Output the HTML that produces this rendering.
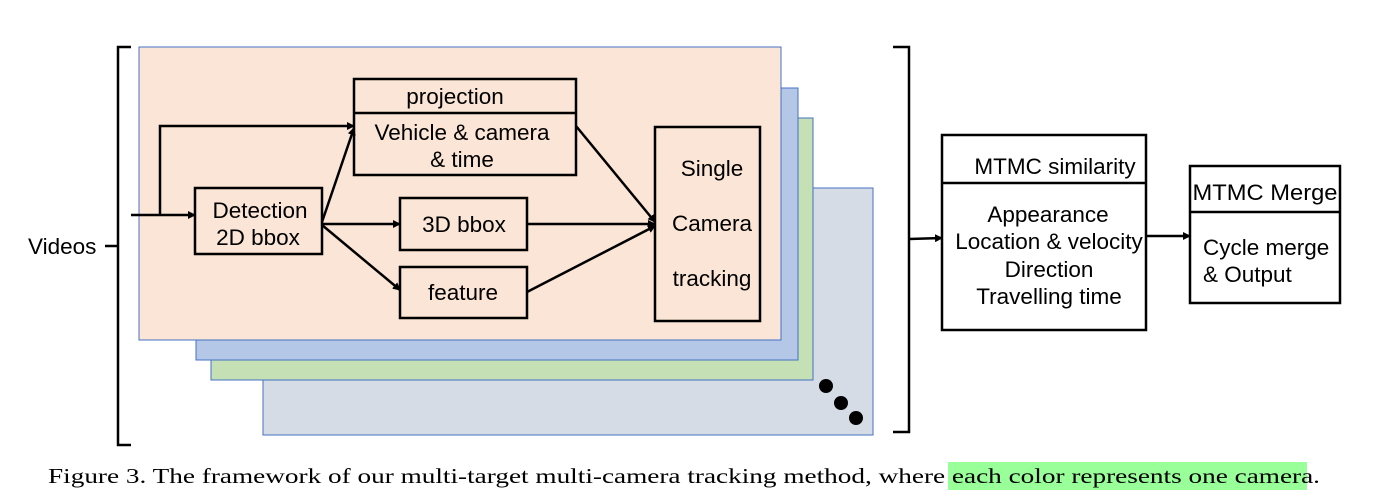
<!DOCTYPE html>
<html><head><meta charset="utf-8"><style>
html,body{margin:0;padding:0;background:#fff;}
svg{display:block;}
text{font-family:"Liberation Sans",Arial,sans-serif;font-size:22.5px;fill:#000;}
text.cap{font-family:"Liberation Serif","Times New Roman",serif;font-size:21px;}
</style></head><body>
<svg width="1373" height="502" viewBox="0 0 1373 502" xmlns="http://www.w3.org/2000/svg">
<defs><marker id="a" markerWidth="8" markerHeight="8" refX="7" refY="4" orient="auto" markerUnits="userSpaceOnUse"><path d="M0,0 L8,4 L0,8 z" fill="#000"/></marker></defs>
<rect x="263" y="188" width="610" height="247" fill="#d6dce5" stroke="#4472c4" stroke-width="1"/>
<rect x="211" y="118" width="602" height="262" fill="#c5e0b4" stroke="#4472c4" stroke-width="1"/>
<rect x="196" y="88" width="602" height="272" fill="#b4c7e7" stroke="#4472c4" stroke-width="1"/>
<rect x="139" y="47" width="642" height="293" fill="#fbe5d6" stroke="#4472c4" stroke-width="1"/>
<circle cx="826" cy="386" r="7"/><circle cx="841" cy="403" r="7"/><circle cx="856" cy="418" r="7"/>
<path d="M131,47 L118,47 L118,440 M131,445 L118,445 L118,440 M118,246 L105,246" fill="none" stroke="#000" stroke-width="2.5"/>
<text x="28" y="254">Videos</text>
<path d="M893,47 L909,47 L909,432 L893,432" fill="none" stroke="#000" stroke-width="2.5"/>
<line x1="909" y1="239" x2="942" y2="238" stroke="#000" stroke-width="2.5" marker-end="url(#a)"/>
<g fill="none" stroke="#000" stroke-width="2.5">
<rect x="354" y="79" width="222" height="96"/><line x1="354" y1="113" x2="576" y2="113"/>
<rect x="195" y="188" width="127" height="66"/>
<rect x="400" y="198" width="127" height="52"/>
<rect x="400" y="267" width="127" height="51"/>
<rect x="655" y="127" width="105" height="194"/>
<rect x="942" y="135" width="204" height="195" fill="#fff"/><line x1="942" y1="183" x2="1146" y2="183"/>
<rect x="1190" y="166" width="150" height="137" fill="#fff"/><line x1="1190" y1="212" x2="1340" y2="212"/>
<line x1="131" y1="215" x2="195" y2="215" marker-end="url(#a)"/>
<polyline points="160,215 160,126 354,126" marker-end="url(#a)"/>
<line x1="322" y1="222" x2="354" y2="128" marker-end="url(#a)"/>
<line x1="322" y1="224" x2="400" y2="224" marker-end="url(#a)"/>
<line x1="322" y1="225" x2="400" y2="290" marker-end="url(#a)"/>
<line x1="576" y1="126" x2="655" y2="222" marker-end="url(#a)"/>
<line x1="527" y1="224" x2="655" y2="224" marker-end="url(#a)"/>
<line x1="527" y1="292" x2="655" y2="226" marker-end="url(#a)"/>
<line x1="1146" y1="236" x2="1190" y2="236" marker-end="url(#a)"/>
</g>
<text x="455" y="104" text-anchor="middle">projection</text>
<text x="462" y="140" text-anchor="middle">Vehicle &amp; camera</text>
<text x="462" y="167" text-anchor="middle">&amp; time</text>
<text x="260" y="218" text-anchor="middle">Detection</text>
<text x="258" y="245" text-anchor="middle">2D bbox</text>
<text x="464" y="232" text-anchor="middle">3D bbox</text>
<text x="463" y="300" text-anchor="middle">feature</text>
<text x="712" y="176" text-anchor="middle">Single</text>
<text x="712" y="231" text-anchor="middle">Camera</text>
<text x="712" y="286" text-anchor="middle">tracking</text>
<text x="1055" y="174" text-anchor="middle">MTMC similarity</text>
<text x="1048" y="222" text-anchor="middle">Appearance</text>
<text x="1049" y="249" text-anchor="middle">Location &amp; velocity</text>
<text x="1049" y="277" text-anchor="middle">Direction</text>
<text x="1049" y="304" text-anchor="middle">Travelling time</text>
<text x="1265" y="200" text-anchor="middle" textLength="145" lengthAdjust="spacingAndGlyphs">MTMC Merge</text>
<text x="1203" y="255">Cycle merge</text>
<text x="1203" y="282">&amp; Output</text>
<rect x="948" y="462" width="359" height="28" fill="#99ff99"/>
<text class="cap" x="48" y="483" textLength="1272" lengthAdjust="spacingAndGlyphs">Figure 3. The framework of our multi-target multi-camera tracking method, where each color represents one camera.</text>
</svg>
</body></html>
